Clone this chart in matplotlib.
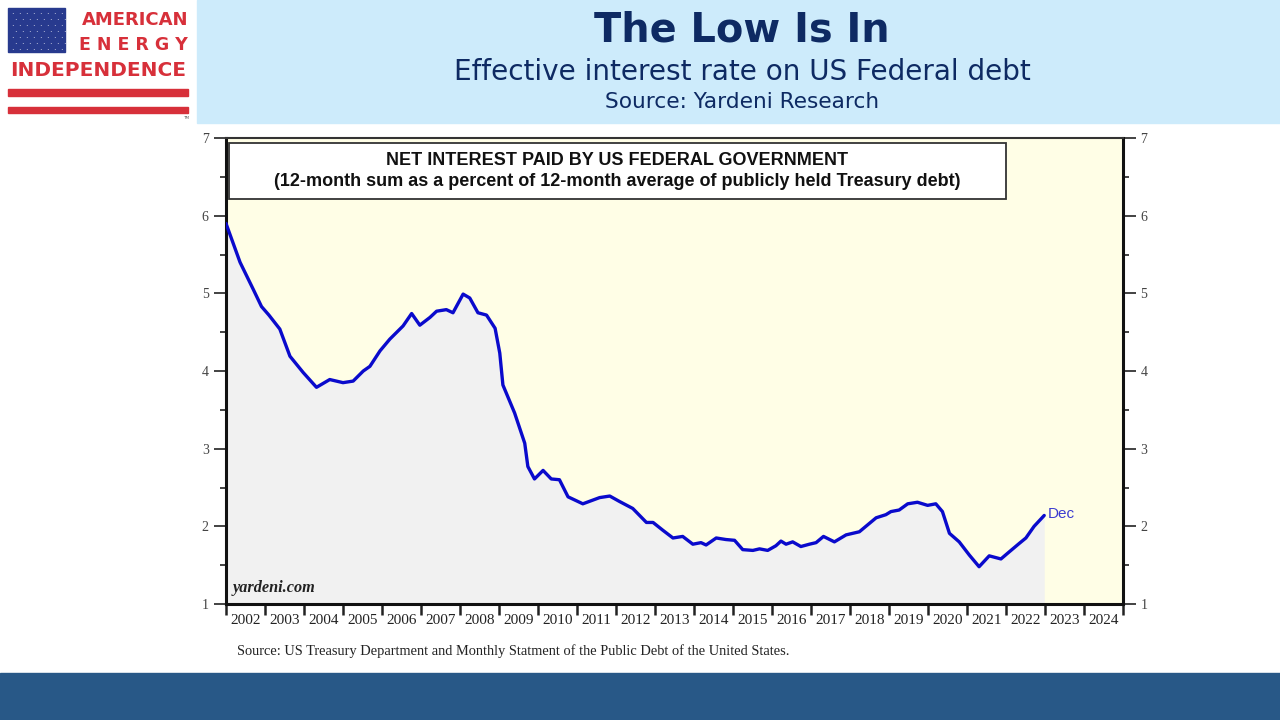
import matplotlib
matplotlib.use('Agg')
import matplotlib.pyplot as plt
from matplotlib.patches import Rectangle
from matplotlib.ticker import FixedLocator, NullFormatter

# data (fractional year, percent)
years = [2002.00, 2002.36, 2002.70, 2002.91, 2003.10, 2003.38, 2003.64, 2003.98,
         2004.32, 2004.66, 2005.00, 2005.26, 2005.52, 2005.69, 2005.95, 2006.20,
         2006.54, 2006.76, 2006.97, 2007.23, 2007.40, 2007.65, 2007.82, 2008.08,
         2008.25, 2008.46, 2008.68, 2008.90, 2009.02, 2009.10, 2009.40, 2009.66, 2009.74,
         2009.91, 2010.13, 2010.34, 2010.55, 2010.77, 2011.15, 2011.58, 2011.84,
         2012.09, 2012.43, 2012.78, 2012.95, 2013.20, 2013.46, 2013.71, 2013.97,
         2014.18, 2014.31, 2014.57, 2014.82, 2015.04, 2015.25, 2015.51, 2015.68,
         2015.89, 2016.10, 2016.23, 2016.36, 2016.53, 2016.74, 2016.96, 2017.13,
         2017.32, 2017.60, 2017.90, 2018.24, 2018.67, 2018.92, 2019.05, 2019.26,
         2019.48, 2019.73, 2019.99, 2020.20, 2020.37, 2020.55, 2020.80, 2021.06,
         2021.31, 2021.57, 2021.87, 2022.08, 2022.34, 2022.51, 2022.72, 2022.98]
rate = [5.90, 5.40, 5.05, 4.83, 4.72, 4.54, 4.19, 3.98,
        3.79, 3.89, 3.85, 3.87, 4.00, 4.06, 4.26, 4.41,
        4.58, 4.74, 4.59, 4.69, 4.77, 4.79, 4.75, 4.99,
        4.94, 4.75, 4.72, 4.55, 4.23, 3.82, 3.46, 3.07, 2.77,
        2.61, 2.72, 2.61, 2.60, 2.38, 2.29, 2.37, 2.39,
        2.32, 2.23, 2.05, 2.05, 1.95, 1.85, 1.87, 1.77,
        1.79, 1.76, 1.85, 1.83, 1.82, 1.70, 1.69, 1.71,
        1.69, 1.75, 1.81, 1.77, 1.80, 1.74, 1.77, 1.79,
        1.87, 1.80, 1.89, 1.93, 2.11, 2.15, 2.19, 2.21,
        2.29, 2.31, 2.27, 2.29, 2.19, 1.91, 1.80, 1.63,
        1.48, 1.62, 1.58, 1.67, 1.78, 1.85, 2.00, 2.14]
year_labels = [str(y) for y in range(2002, 2025)]
y_ticks = [1, 2, 3, 4, 5, 6, 7]

fig = plt.figure(figsize=(12.8, 7.2), dpi=100)
fig.patch.set_facecolor('white')

# header band
fig.patches.append(Rectangle((197 / 1280, 1 - 123 / 720), 1 - 197 / 1280, 123 / 720,
                             transform=fig.transFigure, color='#CDEBFB', zorder=0))
# bottom band
fig.patches.append(Rectangle((0, 0), 1, 47 / 720, transform=fig.transFigure,
                             color='#285887', zorder=0))

navy = '#0E2A63'
fig.text(742 / 1280, 1 - 31 / 720, 'The Low Is In', ha='center', va='center',
         fontsize=28.7, fontweight='bold', color=navy)
fig.text(742 / 1280, 1 - 72 / 720, 'Effective interest rate on US Federal debt',
         ha='center', va='center', fontsize=20.1, color=navy)
fig.text(742 / 1280, 1 - 102 / 720, 'Source: Yardeni Research', ha='center',
         va='center', fontsize=15.6, color=navy)

# logo
red = '#D7303A'
fig.patches.append(Rectangle((8 / 1280, 1 - 52 / 720), 57 / 1280, 44 / 720,
                             transform=fig.transFigure, color='#283A8E', zorder=1))
for r in range(7):
    for c in range(8):
        fx = (12 + c * 7 + (r % 2) * 3) / 1280
        fy = 1 - (12 + r * 6) / 720
        fig.text(fx, fy, '.', color='white', fontsize=6, ha='center', va='center')
fig.text(188 / 1280, 1 - 20 / 720, 'AMERICAN', ha='right', va='center',
         fontsize=13, fontweight='bold', color=red)
fig.text(188 / 1280, 1 - 45 / 720, 'E N E R G Y', ha='right', va='center',
         fontsize=12.5, fontweight='bold', color=red)
fig.text(98 / 1280, 1 - 71 / 720, 'INDEPENDENCE', ha='center', va='center',
         fontsize=14.5, fontweight='bold', color=red)
fig.patches.append(Rectangle((8 / 1280, 1 - 96 / 720), 180 / 1280, 7 / 720,
                             transform=fig.transFigure, color=red, zorder=1))
fig.patches.append(Rectangle((8 / 1280, 1 - 113 / 720), 180 / 1280, 6 / 720,
                             transform=fig.transFigure, color=red, zorder=1))
fig.text(186 / 1280, 1 - 119 / 720, 'TM', fontsize=3, color='#555555', ha='center')

# chart
ax = fig.add_axes([226 / 1280, 1 - 604 / 720, 897 / 1280, 466 / 720])
ax.set_facecolor('#FFFEE6')
ax.fill_between(years, rate, 1, color='#F1F1F1', lw=0, zorder=1)
ax.plot(years, rate, color='#0A0ACC', lw=2.4, zorder=3, solid_capstyle='round')
ax.text(years[-1] + 0.1, rate[-1] + 0.02, 'Dec', color='#3B3BD0', fontsize=11,
        family='Liberation Sans', va='center', ha='left')

ax.set_xlim(2002, 2025)
ax.set_ylim(1, 7)

ax.xaxis.set_major_locator(FixedLocator(range(2002, 2026)))
ax.xaxis.set_major_formatter(NullFormatter())
ax.xaxis.set_minor_locator(FixedLocator([y + 0.5 for y in range(2002, 2025)]))
ax.set_xticklabels(year_labels, minor=True)
ax.tick_params(axis='x', which='major', direction='out', length=8, width=1.8, color='#222222')
ax.tick_params(axis='x', which='minor', length=0, pad=7, labelsize=11,
               labelcolor='#222222')
for t in ax.get_xticklabels(minor=True):
    t.set_family('Liberation Serif')

ax.set_yticks(y_ticks)
ax.set_yticks([1.5, 2.5, 3.5, 4.5, 5.5, 6.5], minor=True)
ax.tick_params(axis='y', which='major', direction='out', length=9, width=1.2,
               left=True, right=True, labelleft=True, labelright=True,
               labelsize=10, labelcolor='#444444', color='#222222')
ax.tick_params(axis='y', which='minor', direction='out', length=4, width=1.2,
               left=True, right=True, color='#222222')
for t in ax.get_yticklabels():
    t.set_family('Liberation Serif')

for side in ['left', 'right', 'bottom']:
    ax.spines[side].set_linewidth(2.2)
    ax.spines[side].set_color('#111111')
ax.spines['top'].set_linewidth(1.5)
ax.spines['top'].set_color('#333333')

# title box inside the plot
box = Rectangle((0.003, 0.869), 0.867, 0.121, transform=ax.transAxes,
                facecolor='white', edgecolor='#333333', lw=1.3, zorder=4)
ax.add_patch(box)
ax.text(0.4365, 0.951, 'NET INTEREST PAID BY US FEDERAL GOVERNMENT',
        transform=ax.transAxes, ha='center', va='center', fontsize=13,
        fontweight='bold', family='Liberation Sans', color='#111111', zorder=5)
ax.text(0.4365, 0.906,
        '(12-month sum as a percent of 12-month average of publicly held Treasury debt)',
        transform=ax.transAxes, ha='center', va='center', fontsize=13,
        fontweight='bold', family='Liberation Sans', color='#111111', zorder=5)

ax.text(0.007, 0.018, 'yardeni.com', transform=ax.transAxes, ha='left',
        va='bottom', fontsize=11.7, fontweight='bold', style='italic',
        family='Liberation Serif', color='#222222', zorder=5)

fig.text(237 / 1280, 1 - 651 / 720,
         'Source: US Treasury Department and Monthly Statment of the Public Debt of the United States.',
         ha='left', va='center', fontsize=10.4, family='Liberation Serif', color='#222222')

fig.savefig('out.png', dpi=100)
